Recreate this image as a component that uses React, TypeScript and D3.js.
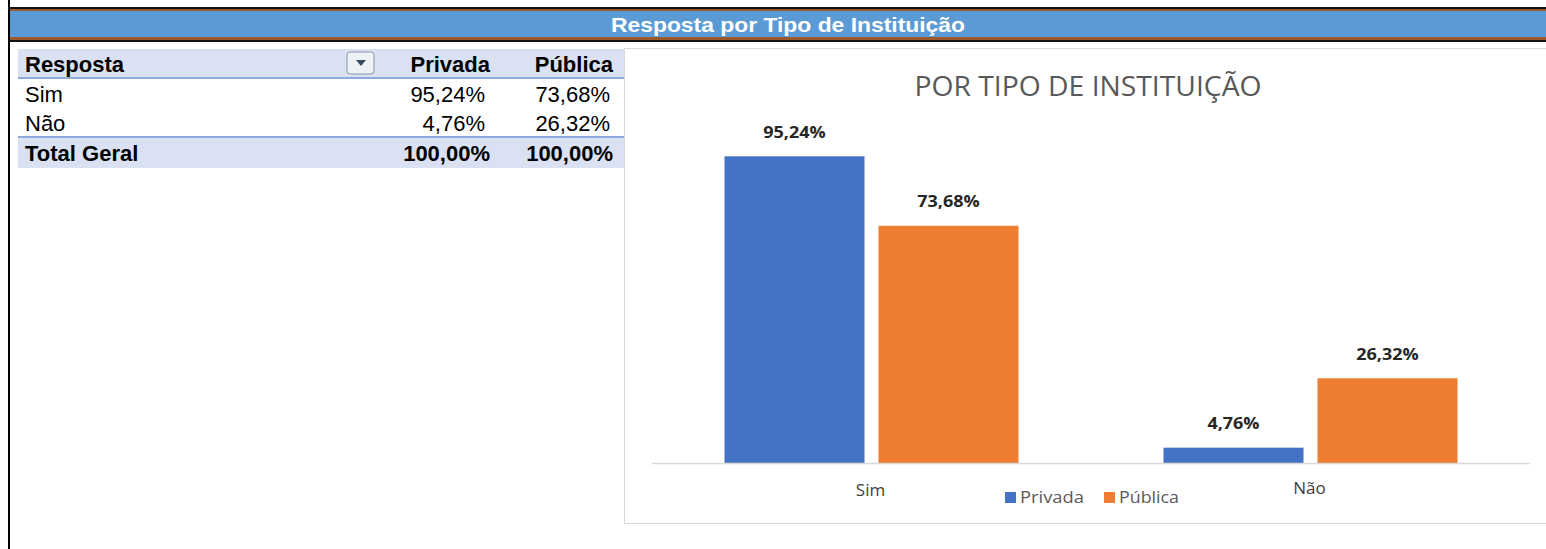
import React, { useEffect, useRef } from 'react';
import * as d3 from 'd3';

const categories = ['Sim', 'Não'];
const seriesNames = ['Privada', 'Pública'];
const privada = [0.9524, 0.0476];
const publica = [0.7368, 0.2632];
const totals = [1, 1];
const colors = ['#4472C4', '#ED7D31'];

const fmt = (v: number) => (v * 100).toFixed(2).replace('.', ',') + '%';

const W = 1546;
const H = 549;

export default function App() {
  const ref = useRef<SVGSVGElement>(null);

  useEffect(() => {
    const svg = d3.select(ref.current);
    svg.selectAll('*').remove();

    // frame lines
    svg.append('rect').attr('x', 8).attr('y', 0).attr('width', 2).attr('height', H).attr('fill', '#000');
    svg.append('rect').attr('x', 8).attr('y', 7).attr('width', W).attr('height', 2).attr('fill', '#111');
    svg.append('rect').attr('x', 10).attr('y', 9).attr('width', W).attr('height', 31).attr('fill', '#9C5A2B');
    svg.append('rect').attr('x', 10).attr('y', 11).attr('width', W).attr('height', 26).attr('fill', '#5B9BD5');
    svg.append('rect').attr('x', 8).attr('y', 40).attr('width', W).attr('height', 2).attr('fill', '#111');
    svg.append('text')
      .attr('x', 611).attr('y', 25).attr('dy', '0.35em')
      .attr('fill', '#fff')
      .attr('font-family', '"Liberation Sans Narrow", "Liberation Sans", Arial, sans-serif')
      .attr('font-weight', 'bold')
      .attr('font-size', 21)
      .attr('textLength', 354)
      .attr('lengthAdjust', 'spacingAndGlyphs')
      .text('Resposta por Tipo de Instituição');

    // pivot table
    const tbl = svg.append('g').attr('font-family', '"Liberation Sans", Arial, sans-serif').attr('font-size', 22).attr('fill', '#000');
    tbl.append('rect').attr('x', 18).attr('y', 49).attr('width', 607).attr('height', 29).attr('fill', '#D9E1F2');
    tbl.append('rect').attr('x', 18).attr('y', 77).attr('width', 607).attr('height', 2).attr('fill', '#8EA9DB');
    tbl.append('rect').attr('x', 18).attr('y', 137).attr('width', 607).attr('height', 31).attr('fill', '#D9E1F2');
    tbl.append('rect').attr('x', 18).attr('y', 136).attr('width', 607).attr('height', 2).attr('fill', '#8EA9DB');
    // dropdown button
    tbl.append('rect').attr('x', 347).attr('y', 52).attr('width', 27).attr('height', 22).attr('rx', 3)
      .attr('fill', '#EEF1F6').attr('stroke', '#8A97A8');
    tbl.append('path').attr('d', 'M356,60 L366,60 L361,66 Z').attr('fill', '#3A4A66');

    const rowY = [64, 94, 123, 153];
    const colX = [490, 613];
    const numX = [485, 610];
    tbl.append('text').attr('x', 25).attr('y', rowY[0]).attr('dy', '0.35em').attr('font-weight', 'bold').text('Resposta');
    seriesNames.forEach((s, j) => {
      tbl.append('text').attr('x', colX[j]).attr('y', rowY[0]).attr('dy', '0.35em').attr('text-anchor', 'end').attr('font-weight', 'bold').text(s);
    });
    categories.forEach((c, i) => {
      tbl.append('text').attr('x', 25).attr('y', rowY[i + 1]).attr('dy', '0.35em').text(c);
      [privada, publica].forEach((arr, j) => {
        tbl.append('text').attr('x', numX[j]).attr('y', rowY[i + 1]).attr('dy', '0.35em').attr('text-anchor', 'end').text(fmt(arr[i]));
      });
    });
    tbl.append('text').attr('x', 25).attr('y', rowY[3]).attr('dy', '0.35em').attr('font-weight', 'bold').text('Total Geral');
    totals.forEach((t, j) => {
      tbl.append('text').attr('x', colX[j]).attr('y', rowY[3]).attr('dy', '0.35em').attr('text-anchor', 'end').attr('font-weight', 'bold').text(fmt(t));
    });

    // chart box
    svg.append('rect').attr('x', 624.5).attr('y', 48.5).attr('width', 940).attr('height', 475)
      .attr('fill', '#fff').attr('stroke', '#D9D9D9');

    const chartFont = '"Open Sans", "Noto Sans", sans-serif';
    const g = svg.append('g').attr('font-family', chartFont);

    g.append('text').attr('x', 1088).attr('y', 87).attr('dy', '0.35em').attr('text-anchor', 'middle')
      .attr('fill', '#595959').attr('font-size', 27).attr('textLength', 347).attr('lengthAdjust', 'spacingAndGlyphs')
      .text('POR TIPO DE INSTITUIÇÃO');

    const x0 = d3.scaleBand().domain(categories).range([652, 1530]).padding(0);
    const groupW = 294;
    const x1 = d3.scaleBand().domain(seriesNames).range([0, groupW]).paddingInner(0.0909);
    const y = d3.scaleLinear().domain([0, 1]).range([463, 141]);

    const data = categories.map((c, i) => ({ c, vals: [privada[i], publica[i]] }));

    const groups = g.selectAll('g.grp').data(data).enter().append('g')
      .attr('transform', d => `translate(${x0(d.c)! + (x0.bandwidth() - groupW) / 2},0)`);

    groups.selectAll('rect').data(d => d.vals.map((v, j) => ({ v, s: seriesNames[j], j })))
      .enter().append('rect')
      .attr('x', d => x1(d.s)!)
      .attr('y', d => y(d.v))
      .attr('width', x1.bandwidth())
      .attr('height', d => y(0) - y(d.v))
      .attr('fill', d => colors[d.j]);

    groups.selectAll('text.lbl').data(d => d.vals.map((v, j) => ({ v, s: seriesNames[j] })))
      .enter().append('text')
      .attr('x', d => x1(d.s)! + x1.bandwidth() / 2)
      .attr('y', d => y(d.v) - 24)
      .attr('dy', '0.35em')
      .attr('text-anchor', 'middle')
      .attr('font-weight', 'bold')
      .attr('font-size', 16)
      .attr('fill', '#262626')
      .attr('textLength', d => fmt(d.v).length * 10.4)
      .attr('lengthAdjust', 'spacingAndGlyphs')
      .text(d => fmt(d.v));

    g.append('line').attr('x1', 652).attr('x2', 1530).attr('y1', 463.5).attr('y2', 463.5)
      .attr('stroke', '#D9D9D9').attr('stroke-width', 1.5);

    categories.forEach((c, i) => {
      g.append('text').attr('x', x0(c)! + x0.bandwidth() / 2 - 1).attr('y', i === 0 ? 490 : 488).attr('dy', '0.35em')
        .attr('text-anchor', 'middle').attr('font-size', 17).attr('fill', '#404040').text(c);
    });

    const legX = [1005, 1104];
    const legW = [64, 60];
    seriesNames.forEach((s, j) => {
      g.append('rect').attr('x', legX[j]).attr('y', 492).attr('width', 11).attr('height', 11).attr('fill', colors[j]);
      g.append('text').attr('x', legX[j] + 15).attr('y', 497).attr('dy', '0.35em')
        .attr('font-size', 17).attr('fill', '#595959')
        .attr('textLength', legW[j]).attr('lengthAdjust', 'spacingAndGlyphs').text(s);
    });
  }, []);

  return (
    <svg ref={ref} width={W} height={H} style={{ position: 'absolute', left: 0, top: 0, background: '#fff' }} />
  );
}
